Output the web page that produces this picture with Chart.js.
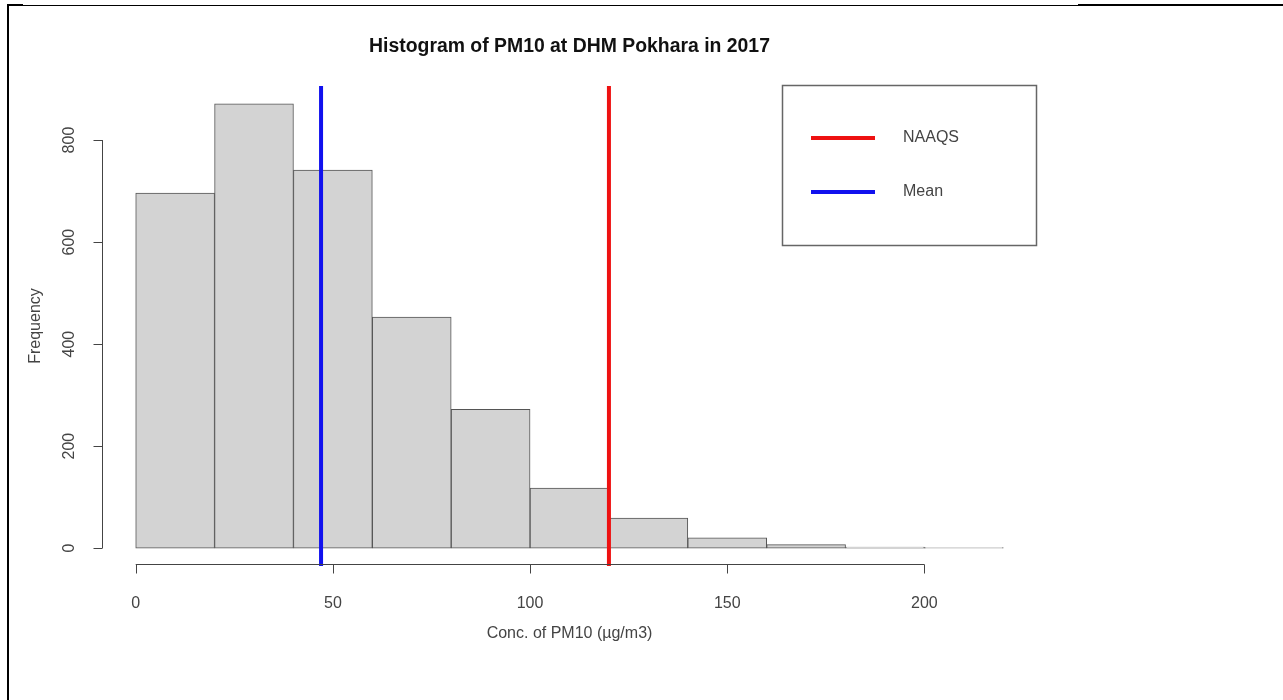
<!DOCTYPE html>
<html>
<head>
<meta charset="utf-8">
<script src="https://cdn.jsdelivr.net/npm/chart.js@4/dist/chart.umd.min.js"></script>
<style>
  html, body { margin: 0; padding: 0; background: #ffffff; }
  #wrap { position: relative; width: 1283px; height: 700px; overflow: hidden; }
  #c { position: absolute; left: 0; top: 0; }
  .fr { position: absolute; background: #000; }
</style>
</head>
<body>
<div id="wrap">
  <canvas id="c" width="1283" height="700"></canvas>
  <div class="fr" style="left:7px;top:5px;width:2px;height:695px;"></div>
  <div class="fr" style="left:7px;top:4px;width:16px;height:2px;"></div>
  <div class="fr" style="left:23px;top:5px;width:1055px;height:1px;"></div>
  <div class="fr" style="left:1078px;top:4px;width:205px;height:2px;"></div>
</div>
<script>
// ---- data ----
const binCenters = [10, 30, 50, 70, 90, 110, 130, 150, 170, 190, 210];
const counts = [696, 871, 741, 453, 272, 118, 59, 20, 7, 2, 1];
const naaqsValue = 120;
const meanValue = 47;
const xTicks = [0, 50, 100, 150, 200];
const yTicks = [0, 200, 400, 600, 800];
const titleText = 'Histogram of PM10 at DHM Pokhara in 2017';
const xTitle = 'Conc. of PM10 (\u00b5g/m3)';
const yTitle = 'Frequency';
const legendLabels = ['NAAQS', 'Mean'];

const FONT = '"Liberation Sans", Arial, Helvetica, sans-serif';
const Y_MIN = -35, Y_MAX = 906;

const histData = binCenters.map((x, i) => ({ x: x, y: counts[i] }));

const rDecor = {
  id: 'rDecor',
  afterDraw(chart) {
    const ctx = chart.ctx;
    const xs = chart.scales.x, ys = chart.scales.y;
    const ca = chart.chartArea;
    ctx.save();
    // x axis
    ctx.strokeStyle = '#444';
    ctx.lineWidth = 1;
    const ay = Math.round(ca.bottom) - 1.5;
    ctx.beginPath();
    ctx.moveTo(xs.getPixelForValue(xTicks[0]), ay);
    ctx.lineTo(xs.getPixelForValue(xTicks[xTicks.length - 1]), ay);
    xTicks.forEach(t => {
      const px = Math.round(xs.getPixelForValue(t)) + 0.5;
      ctx.moveTo(px, ay);
      ctx.lineTo(px, ay + 9);
    });
    ctx.stroke();
    ctx.fillStyle = '#444';
    ctx.font = '16px ' + FONT;
    ctx.textAlign = 'center';
    ctx.textBaseline = 'middle';
    xTicks.forEach(t => ctx.fillText(String(t), xs.getPixelForValue(t), 604));
    // y axis
    const ax = Math.round(ca.left) + 1.5;
    ctx.beginPath();
    ctx.moveTo(ax, ys.getPixelForValue(yTicks[0]));
    ctx.lineTo(ax, ys.getPixelForValue(yTicks[yTicks.length - 1]));
    yTicks.forEach(t => {
      const py = Math.round(ys.getPixelForValue(t)) + 0.5;
      ctx.moveTo(ax, py);
      ctx.lineTo(ax - 9, py);
    });
    ctx.stroke();
    yTicks.forEach(t => {
      ctx.save();
      ctx.translate(70, ys.getPixelForValue(t));
      ctx.rotate(-Math.PI / 2);
      ctx.fillText(String(t), 0, 0);
      ctx.restore();
    });
    // axis titles
    ctx.fillText(xTitle, (ca.left + ca.right) / 2, 634);
    ctx.save();
    ctx.translate(36, (ca.top + ca.bottom) / 2);
    ctx.rotate(-Math.PI / 2);
    ctx.fillText(yTitle, 0, 0);
    ctx.restore();
    // title
    ctx.fillStyle = '#111';
    ctx.font = 'bold 19.4px ' + FONT;
    ctx.fillText(titleText, (ca.left + ca.right) / 2, 47);
    // legend
    ctx.strokeStyle = '#666';
    ctx.lineWidth = 1.5;
    ctx.strokeRect(782.5, 85.5, 254, 160);
    const legColors = [chart.data.datasets[1].borderColor, chart.data.datasets[2].borderColor];
    const legY = [138, 192];
    ctx.lineWidth = 4;
    ctx.font = '16px ' + FONT;
    ctx.textAlign = 'left';
    ctx.fillStyle = '#444';
    legendLabels.forEach((lab, i) => {
      ctx.strokeStyle = legColors[i];
      ctx.beginPath();
      ctx.moveTo(811, legY[i]);
      ctx.lineTo(875, legY[i]);
      ctx.stroke();
      ctx.fillText(lab, 903, legY[i]);
    });
    ctx.restore();
  }
};

new Chart(document.getElementById('c'), {
  type: 'bar',
  data: {
    datasets: [
      {
        type: 'bar',
        label: 'Frequency',
        data: histData,
        backgroundColor: '#d3d3d3',
        borderColor: '#555555',
        borderWidth: 1,
        borderSkipped: false,
        barPercentage: 1,
        categoryPercentage: 1,
        order: 2
      },
      {
        type: 'line',
        label: legendLabels[0],
        data: [{ x: naaqsValue, y: Y_MIN }, { x: naaqsValue, y: Y_MAX }],
        borderColor: '#ee1111',
        borderWidth: 4,
        pointRadius: 0,
        order: 1
      },
      {
        type: 'line',
        label: legendLabels[1],
        data: [{ x: meanValue, y: Y_MIN }, { x: meanValue, y: Y_MAX }],
        borderColor: '#1111ee',
        borderWidth: 4,
        pointRadius: 0,
        order: 1
      }
    ]
  },
  options: {
    responsive: false,
    animation: false,
    devicePixelRatio: 1,
    layout: { padding: { left: 101, right: 245, top: 86, bottom: 134 } },
    scales: {
      x: { type: 'linear', min: -8.8, max: 228.8, offset: false, display: false },
      y: { type: 'linear', min: Y_MIN, max: Y_MAX, display: false }
    },
    plugins: {
      legend: { display: false },
      title: { display: false },
      tooltip: { enabled: false }
    }
  },
  plugins: [rDecor]
});
</script>
</body>
</html>
